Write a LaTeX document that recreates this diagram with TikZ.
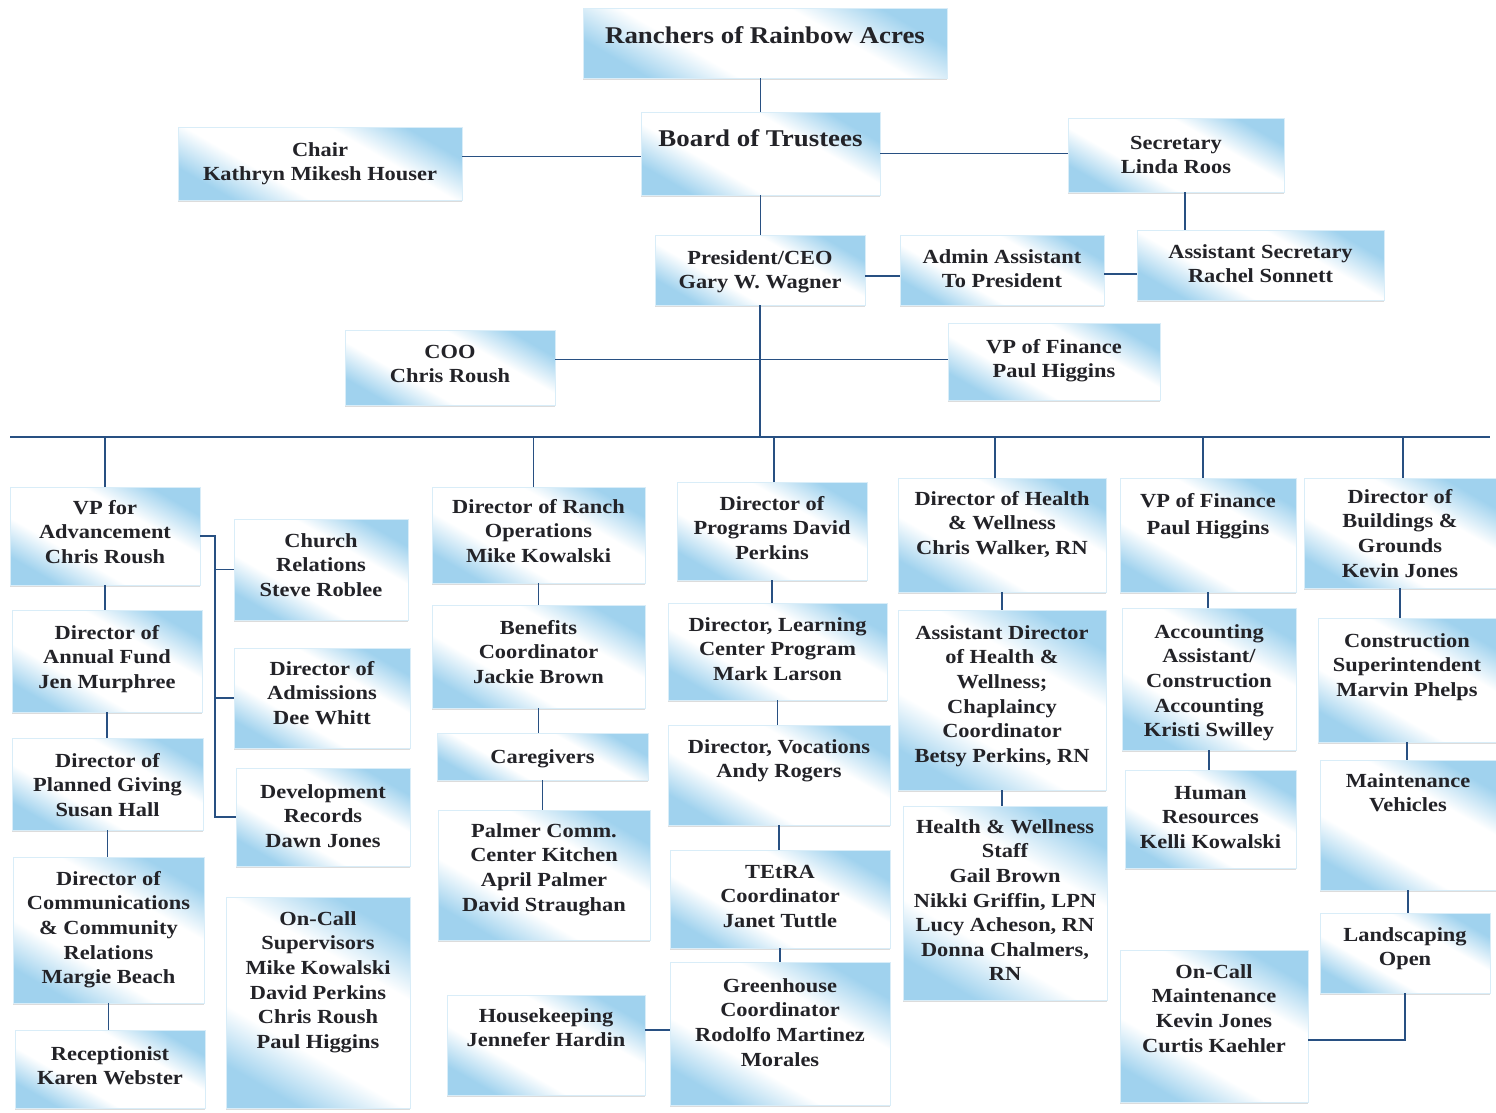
\documentclass[tikz,border=0pt]{standalone}
\usepackage{fontspec}
\setmainfont[FakeStretch=1.12]{Liberation Serif}
\usetikzlibrary{calc,shadows}
\definecolor{lb}{RGB}{160,210,238}
\definecolor{ln}{RGB}{40,80,130}
\definecolor{tx}{RGB}{35,35,40}
\pgfdeclarehorizontalshading{boxshade}{100bp}{color(0bp)=(lb);color(25bp)=(lb);color(38bp)=(white);color(62bp)=(white);color(75bp)=(lb);color(100bp)=(lb)}
\tikzset{
  box/.style={shading=boxshade,shading angle=60,inner sep=0pt,outer sep=0pt,
    draw=lb!40,line width=0.4pt,text=tx,
    drop shadow={shadow xshift=0pt,shadow yshift=-2pt,opacity=0.45,fill=gray!60},
    font=\fontsize{20}{24.6}\selectfont\bfseries},
  bigbox/.style={box,font=\fontsize{24}{30}\selectfont\bfseries},
  conn/.style={draw=ln,line width=1.7pt}
}
% \bx[style]{name}{left}{top}{right}{bottom}{pad}{text}
\newcommand\bx[8][box]{%
  \node[#1] (#2) at ({(#3+#5)/2},{(#4+#6)/2})
  {\parbox[c][\dimexpr #6pt-#4pt\relax][t]{\dimexpr #5pt-#3pt\relax}{\centering\vspace*{#7pt}\strut #8\par}};}
\begin{document}
\begin{tikzpicture}[x=1pt,y=-1pt]
\useasboundingbox[fill=white] (0,0) rectangle (1496,1112);
% top
\bx[bigbox]{ranch}{583}{8}{947}{78}{14}{Ranchers of Rainbow Acres}
\bx[bigbox]{board}{641}{112}{880}{195}{13}{Board of Trustees}
\bx{chair}{178}{127}{462}{200}{12}{Chair\\Kathryn Mikesh Houser}
\bx{sec}{1068}{118}{1284}{192}{14}{Secretary\\Linda Roos}
\bx{pres}{655}{235}{865}{305}{12}{President/CEO\\Gary W. Wagner}
\bx{admin}{900}{235}{1104}{305}{11}{Admin Assistant\\To President}
\bx{asec}{1137}{230}{1384}{300}{11}{Assistant Secretary\\Rachel Sonnett}
\bx{coo}{345}{330}{555}{405}{11}{COO\\Chris Roush}
\bx{vpf}{948}{323}{1160}{400}{13}{VP of Finance\\Paul Higgins}
% column 1
\bx{vpa}{10}{487}{200}{585}{10}{VP for\\Advancement\\Chris Roush}
\bx{annual}{12}{610}{202}{712}{12}{Director of\\Annual Fund\\Jen Murphree}
\bx{planned}{12}{738}{203}{830}{12}{Director of\\Planned Giving\\Susan Hall}
\bx{comm}{13}{857}{204}{1003}{11}{Director of\\Communications\\\& Community\\Relations\\Margie Beach}
\bx{recep}{15}{1030}{205}{1108}{13}{Receptionist\\Karen Webster}
\bx{church}{234}{519}{408}{620}{11}{Church\\Relations\\Steve Roblee}
\bx{admis}{234}{648}{410}{748}{10}{Director of\\Admissions\\Dee Whitt}
\bx{devrec}{236}{768}{410}{866}{13}{Development\\Records\\Dawn Jones}
\bx{oncall}{226}{897}{410}{1108}{11}{On-Call\\Supervisors\\Mike Kowalski\\David Perkins\\Chris Roush\\Paul Higgins}
% column 2
\bx{ranchops}{432}{487}{645}{583}{9}{Director of Ranch\\Operations\\Mike Kowalski}
\bx{benefits}{432}{605}{645}{708}{12}{Benefits\\Coordinator\\Jackie Brown}
\bx{care}{437}{733}{648}{780}{13}{Caregivers}
\bx{palmer}{438}{810}{650}{940}{10}{Palmer Comm.\\Center Kitchen\\April Palmer\\David Straughan}
\bx{house}{447}{995}{645}{1095}{10}{Housekeeping\\Jennefer Hardin}
% column 3
\bx{programs}{677}{482}{867}{580}{11}{Director of\\Programs David\\Perkins}
\bx{learning}{668}{603}{887}{700}{11}{Director, Learning\\Center Program\\Mark Larson}
\bx{vocations}{668}{725}{890}{825}{11}{Director, Vocations\\Andy Rogers}
\bx{tetra}{670}{850}{890}{948}{11}{TEtRA\\Coordinator\\Janet Tuttle}
\bx{greenhouse}{670}{962}{890}{1105}{13}{Greenhouse\\Coordinator\\Rodolfo Martinez\\Morales}
% column 4
\bx{health}{898}{478}{1106}{592}{10}{Director of Health\\\& Wellness\\Chris Walker, RN}
\bx{asthealth}{898}{610}{1106}{790}{12}{Assistant Director\\of Health \&\\Wellness;\\Chaplaincy\\Coordinator\\Betsy Perkins, RN}
\bx{staff}{903}{806}{1107}{1000}{10}{Health \& Wellness\\Staff\\Gail Brown\\Nikki Griffin, LPN\\Lucy Acheson, RN\\Donna Chalmers,\\RN}
% column 5
\bx{vpf2}{1120}{478}{1296}{592}{12}{VP of Finance\\[3pt]Paul Higgins}
\bx{acct}{1122}{608}{1296}{750}{13}{Accounting\\Assistant/\\Construction\\Accounting\\Kristi Swilley}
\bx{hr}{1125}{770}{1296}{868}{12}{Human\\Resources\\Kelli Kowalski}
\bx{oncallm}{1120}{950}{1308}{1102}{11}{On-Call\\Maintenance\\Kevin Jones\\Curtis Kaehler}
% column 6
\bx{bldg}{1304}{478}{1496}{588}{8}{Director of\\Buildings \&\\Grounds\\Kevin Jones}
\bx{constr}{1318}{618}{1496}{742}{12}{Construction\\Superintendent\\Marvin Phelps}
\bx{maint}{1320}{760}{1496}{890}{10}{Maintenance\\Vehicles}
\bx{land}{1320}{913}{1490}{993}{11}{Landscaping\\Open}
% bus coordinates
\coordinate (busL) at (10,437);
\coordinate (busR) at (1490,437);
\coordinate (brk) at (215,540);
% connectors
\draw[conn] (board.north) -- (board.north |- ranch.south);
\draw[conn] ([yshift=7pt]chair.east) -- ([yshift=7pt]chair.east -| board.west);
\draw[conn] (board.east) -- (board.east -| sec.west);
\draw[conn] ([xshift=9pt]sec.south) -- ([xshift=9pt]sec.south |- asec.north);
\draw[conn] (board.south) -- (board.south |- pres.north);
\draw[conn] ([yshift=-6pt]pres.east) -- ([yshift=-6pt]pres.east -| admin.west);
\draw[conn] ([yshift=-4pt]admin.east) -- ([yshift=-4pt]admin.east -| asec.west);
\draw[conn] (pres.south) -- (pres.south |- busL);
\draw[conn] ([yshift=2pt]vpf.west) -- ([yshift=2pt]vpf.west -| coo.east);
\draw[conn] (busL) -- (busR);
\foreach \n/\s in {vpa/0,ranchops/-5,programs/2,health/-7,vpf2/-5,bldg/3}
  \draw[conn] ([xshift=\s pt]\n.north) -- ([xshift=\s pt]\n.north |- busL);
\foreach \a/\b in {vpa/annual,annual/planned,planned/comm,comm/recep,
  ranchops/benefits,benefits/care,care/palmer,
  programs/learning,learning/vocations,vocations/tetra,tetra/greenhouse,
  health/asthealth,asthealth/staff,vpf2/acct,acct/hr,
  bldg/constr,constr/maint,maint/land}
  \draw[conn] (\a.south) -- (\a.south |- \b.north);
\draw[conn] (vpa.east) -| (brk |- devrec.west) -- (devrec.west);
\draw[conn] (church.west) -- (church.west -| brk);
\draw[conn] (admis.west) -- (admis.west -| brk);
\draw[conn] ([yshift=15pt]house.east) -- ([yshift=15pt]house.east -| greenhouse.west);
\draw[conn] ([yshift=-14pt]oncallm.east) -| (land.south);
\end{tikzpicture}
\end{document}
